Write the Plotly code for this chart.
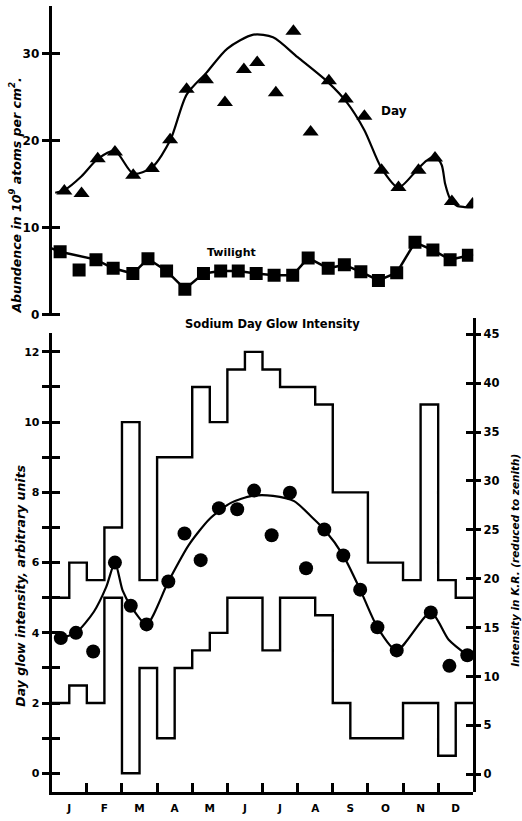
import plotly.graph_objects as go

# ---------------- data ----------------
months = ["J", "F", "M", "A", "M", "J", "J", "A", "S", "O", "N", "D"]
month_ticks = [0, 1, 2, 3, 4, 5, 6, 7, 8, 9, 10, 11, 12]
month_mid = [0.5, 1.5, 2.5, 3.5, 4.5, 5.5, 6.5, 7.5, 8.5, 9.5, 10.5, 11.5]

# Top panel: sodium abundance (10^9 atoms per cm^2)
day_x = [0.36, 0.85, 1.31, 1.80, 2.32, 2.85, 3.37, 3.84, 4.39, 4.93, 5.47, 5.85,
         6.38, 6.88, 7.37, 7.89, 8.37, 8.90, 9.39, 9.87, 10.44, 10.91, 11.39, 11.98]
day_y = [14.2, 13.9, 17.9, 18.7, 16.0, 16.8, 20.1, 25.9, 27.0, 24.4, 28.2, 29.0,
         25.5, 32.6, 21.0, 26.9, 24.8, 22.8, 16.6, 14.6, 16.6, 18.0, 13.0, 12.7]
day_fit_x = [0.1, 0.36, 0.85, 1.31, 1.80, 2.32, 2.85, 3.37, 3.84, 4.4, 5.0, 5.74, 6.3, 7.0,
             7.87, 8.4, 8.9, 9.39, 9.87, 10.39, 10.67, 10.91, 11.1, 11.2, 11.34, 11.53,
             11.75, 12.0]
day_fit_y = [14.0, 14.3, 15.9, 17.9, 18.8, 16.2, 16.9, 20.0, 25.3, 27.8, 30.6, 32.2, 31.9,
             29.6, 26.7, 24.4, 21.2, 16.8, 14.6, 16.6, 17.7, 18.2, 17.2, 15.0, 13.3, 12.5,
             12.35, 12.3]

twi_x = [0.24, 0.78, 1.26, 1.75, 2.31, 2.74, 3.27, 3.79, 4.32, 4.81, 5.31, 5.82,
         6.33, 6.86, 7.30, 7.87, 8.33, 8.80, 9.30, 9.82, 10.34, 10.85, 11.34, 11.86]
twi_y = [7.2, 5.1, 6.3, 5.3, 4.7, 6.4, 5.0, 2.9, 4.7, 5.0, 5.0, 4.7,
         4.5, 4.5, 6.5, 5.3, 5.7, 4.9, 3.9, 4.8, 8.3, 7.4, 6.3, 6.8]
twi_line_x = [0.0, 0.24, 1.26, 1.75, 2.31, 2.74, 3.27, 3.79, 4.32, 4.81, 5.31, 5.82,
              6.33, 6.86, 7.30, 7.87, 8.33, 8.80, 9.30, 9.82, 10.34, 10.85, 11.34, 11.86, 12.0]
twi_line_y = [7.6, 7.2, 6.3, 5.3, 4.7, 6.4, 5.0, 2.9, 4.7, 5.0, 5.0, 4.7,
              4.5, 4.5, 6.5, 5.3, 5.7, 4.9, 3.9, 4.8, 8.3, 7.4, 6.3, 6.8, 6.9]

# Bottom panel: sodium day glow intensity (arbitrary units)
bin_start = [0.0, 0.5, 1.0, 1.5, 2.0, 2.5, 3.0, 3.5, 4.0, 4.5, 5.0, 5.5,
             6.0, 6.5, 7.0, 7.5, 8.0, 8.5, 9.0, 9.5, 10.0, 10.5, 11.0, 11.5]
bin_end = 12.0
upper = [5.0, 6.0, 5.5, 7.0, 10.0, 5.5, 9.0, 9.0, 11.0, 10.0, 11.5, 12.0,
         11.5, 11.0, 11.0, 10.5, 8.0, 8.0, 6.0, 6.0, 5.5, 10.5, 5.5, 5.0]
lower = [2.0, 2.5, 2.0, 5.0, 0.0, 3.0, 1.0, 3.0, 3.5, 4.0, 5.0, 5.0,
         3.5, 5.0, 5.0, 4.5, 2.0, 1.0, 1.0, 1.0, 2.0, 2.0, 0.5, 2.0]

glow_x = [0.26, 0.69, 1.18, 1.80, 2.25, 2.70, 3.32, 3.78, 4.24, 4.76, 5.28, 5.76,
          6.26, 6.78, 7.24, 7.76, 8.30, 8.78, 9.27, 9.82, 10.79, 11.32, 11.83]
glow_y = [3.85, 4.0, 3.47, 6.0, 4.77, 4.24, 5.46, 6.83, 6.07, 7.55, 7.52, 8.05,
          6.78, 7.99, 5.84, 6.94, 6.2, 5.23, 4.16, 3.5, 4.58, 3.06, 3.36]
glow_fit_x = [0.15, 0.26, 0.69, 1.2, 1.55, 1.80, 2.02, 2.25, 2.70, 3.32, 3.9, 4.5, 5.1,
              5.7, 6.3, 6.9, 7.4, 7.76, 8.3, 8.78, 9.27, 9.82, 10.79, 11.3, 11.83]
glow_fit_y = [3.8, 3.85, 4.0, 4.6, 5.3, 6.0, 5.2, 4.77, 4.24, 5.46, 6.5, 7.25, 7.7,
              7.9, 7.9, 7.75, 7.3, 6.94, 6.2, 5.23, 4.16, 3.5, 4.58, 3.8, 3.36]

left_major = [0, 2, 4, 6, 8, 10, 12]
left_minor = [1, 3, 5, 7, 9, 11]
left_all = [0, 1, 2, 3, 4, 5, 6, 7, 8, 9, 10, 11, 12]
right_ticks = [0, 5, 10, 15, 20, 25, 30, 35, 40, 45]
top_ticks = [0, 10, 20, 30]

# ---------------- layout helpers ----------------
W, H = 522, 821
FONT = "DejaVu Sans"


def fx(px):
    return px / W


def fy(py):
    return 1 - py / H


BLACK = "black"
x_dom = [fx(51.7), fx(473.3)]

fig = go.Figure()

# top panel
fig.add_trace(go.Scatter(x=day_fit_x, y=day_fit_y, mode="lines",
                         line=dict(color=BLACK, width=2.2, shape="spline", smoothing=0.75),
                         xaxis="x", yaxis="y", hoverinfo="skip"))
fig.add_trace(go.Scatter(x=day_x, y=day_y, mode="markers",
                         marker=dict(symbol="triangle-up", size=14, color=BLACK),
                         xaxis="x", yaxis="y"))
fig.add_trace(go.Scatter(x=twi_line_x, y=twi_line_y, mode="lines",
                         line=dict(color=BLACK, width=2.5),
                         xaxis="x", yaxis="y", hoverinfo="skip"))
fig.add_trace(go.Scatter(x=twi_x, y=twi_y, mode="markers",
                         marker=dict(symbol="square", size=13, color=BLACK),
                         xaxis="x", yaxis="y"))
fig.add_trace(go.Scatter(x=[], y=[], xaxis="x", yaxis="y5", hoverinfo="skip"))

# bottom panel
fig.add_trace(go.Scatter(x=bin_start + [bin_end], y=upper + [upper[-1]], mode="lines",
                         line=dict(color=BLACK, width=2.4, shape="hv"),
                         xaxis="x2", yaxis="y3", hoverinfo="skip"))
fig.add_trace(go.Scatter(x=bin_start + [bin_end], y=lower + [lower[-1]], mode="lines",
                         line=dict(color=BLACK, width=2.4, shape="hv"),
                         xaxis="x2", yaxis="y3", hoverinfo="skip"))
fig.add_trace(go.Scatter(x=glow_fit_x, y=glow_fit_y, mode="lines",
                         line=dict(color=BLACK, width=2.2, shape="spline", smoothing=0.7),
                         xaxis="x2", yaxis="y3", hoverinfo="skip"))
fig.add_trace(go.Scatter(x=glow_x, y=glow_y, mode="markers",
                         marker=dict(symbol="circle", size=14, color=BLACK),
                         xaxis="x2", yaxis="y3"))
fig.add_trace(go.Scatter(x=[], y=[], xaxis="x2", yaxis="y4", hoverinfo="skip"))
fig.add_trace(go.Scatter(x=[], y=[], xaxis="x2", yaxis="y6", hoverinfo="skip"))
fig.add_trace(go.Scatter(x=[], y=[], xaxis="x2", yaxis="y7", hoverinfo="skip"))
fig.add_trace(go.Scatter(x=[], y=[], xaxis="x3", yaxis="y3", hoverinfo="skip"))

top_font = dict(family=FONT, size=12, color=BLACK, weight="bold")
left_font = dict(family=FONT, size=11, color=BLACK, weight="bold")
right_font = dict(family=FONT, size=11.5, color=BLACK, weight="bold")
month_font = dict(family=FONT, size=10.5, color=BLACK, weight="bold")
ann_font = dict(family=FONT, color=BLACK, weight="bold")

top_range = [-0.15, 35.5]
bl_range = [-0.537, 12.55]
br_range = [-1.83, 46.7]

fig.update_layout(
    width=W, height=H, autosize=False,
    margin=dict(l=0, r=0, t=0, b=0),
    paper_bgcolor="white", plot_bgcolor="rgba(0,0,0,0)",
    showlegend=False,
    xaxis=dict(domain=x_dom, range=[0, 12], visible=False, anchor="y"),
    yaxis=dict(domain=[fy(318), fy(6)], range=top_range, anchor="x",
               showline=True, linewidth=3, linecolor=BLACK, showgrid=False, zeroline=False,
               ticks="outside", ticklen=7, tickwidth=2.5, tickcolor=BLACK,
               tickvals=top_ticks, tickfont=top_font),
    yaxis5=dict(overlaying="y", anchor="x", side="left", range=top_range,
                showline=False, showgrid=False, zeroline=False,
                ticks="inside", ticklen=8, tickwidth=2.5, tickcolor=BLACK,
                tickvals=top_ticks, showticklabels=False),
    xaxis2=dict(domain=x_dom, range=[0, 12], anchor="y3",
                showline=True, linewidth=3, linecolor=BLACK, showgrid=False, zeroline=False,
                ticks="inside", ticklen=9, tickwidth=2.5, tickcolor=BLACK,
                tickvals=month_ticks, showticklabels=False),
    xaxis3=dict(overlaying="x2", anchor="y3", range=[0, 12],
                showline=False, showgrid=False, zeroline=False,
                ticks="outside", ticklen=6, tickcolor="rgba(0,0,0,0)",
                tickvals=month_mid, ticktext=months, tickfont=month_font),
    yaxis3=dict(domain=[fy(798), fy(335)], range=bl_range, anchor="x2",
                showline=True, linewidth=3, linecolor=BLACK, showgrid=False, zeroline=False,
                ticks="outside", ticklen=7, tickwidth=2.5, tickcolor=BLACK,
                tickvals=left_major, tickfont=left_font,
                minor=dict(tickvals=left_minor, ticks="outside", ticklen=7,
                           tickwidth=2.5, tickcolor=BLACK, showgrid=False)),
    yaxis6=dict(overlaying="y3", anchor="x2", side="left", range=bl_range,
                showline=False, showgrid=False, zeroline=False,
                ticks="inside", ticklen=8, tickwidth=2.5, tickcolor=BLACK,
                tickvals=left_all, showticklabels=False),
    yaxis4=dict(domain=[fy(798), fy(320)], range=br_range, anchor="x2", side="right",
                showline=True, linewidth=3, linecolor=BLACK, showgrid=False, zeroline=False,
                ticks="outside", ticklen=5, tickwidth=2.5, tickcolor=BLACK,
                tickvals=right_ticks, tickfont=right_font),
    yaxis7=dict(overlaying="y4", anchor="x2", side="right", range=br_range,
                showline=False, showgrid=False, zeroline=False,
                ticks="inside", ticklen=7, tickwidth=2.5, tickcolor=BLACK,
                tickvals=right_ticks, showticklabels=False),
)

annotations = [
    dict(text="Day", x=fx(394), y=fy(112), font=dict(size=12, **ann_font)),
    dict(text="Twilight", x=fx(231), y=fy(254), font=dict(size=11, **ann_font)),
    dict(text="Sodium Day Glow Intensity", x=fx(272), y=fy(326), font=dict(size=11.5, **ann_font)),
    dict(text="<i>Abundence in 10<sup>9</sup> atoms per cm<sup>2</sup>.</i>", x=fx(15), y=fy(197),
         textangle=-90, font=dict(size=12.5, **ann_font)),
    dict(text="<i>Day glow intensity, arbitrary units</i>", x=fx(21), y=fy(590),
         textangle=-90, font=dict(size=12.5, **ann_font)),
    dict(text="<i>Intensity in K.R. (reduced to zenith)</i>", x=fx(515), y=fy(565),
         textangle=-90, font=dict(size=10.5, **ann_font)),
]
for a in annotations:
    a.update(xref="paper", yref="paper", showarrow=False, xanchor="center", yanchor="middle")
fig.update_layout(annotations=annotations)

# remove the browser's default page margin so the 522x821 figure fills the window exactly
fig.write_html("out.html",
               config={"displayModeBar": False},
               post_script="document.body.style.margin='0';document.body.style.overflow='hidden';")
